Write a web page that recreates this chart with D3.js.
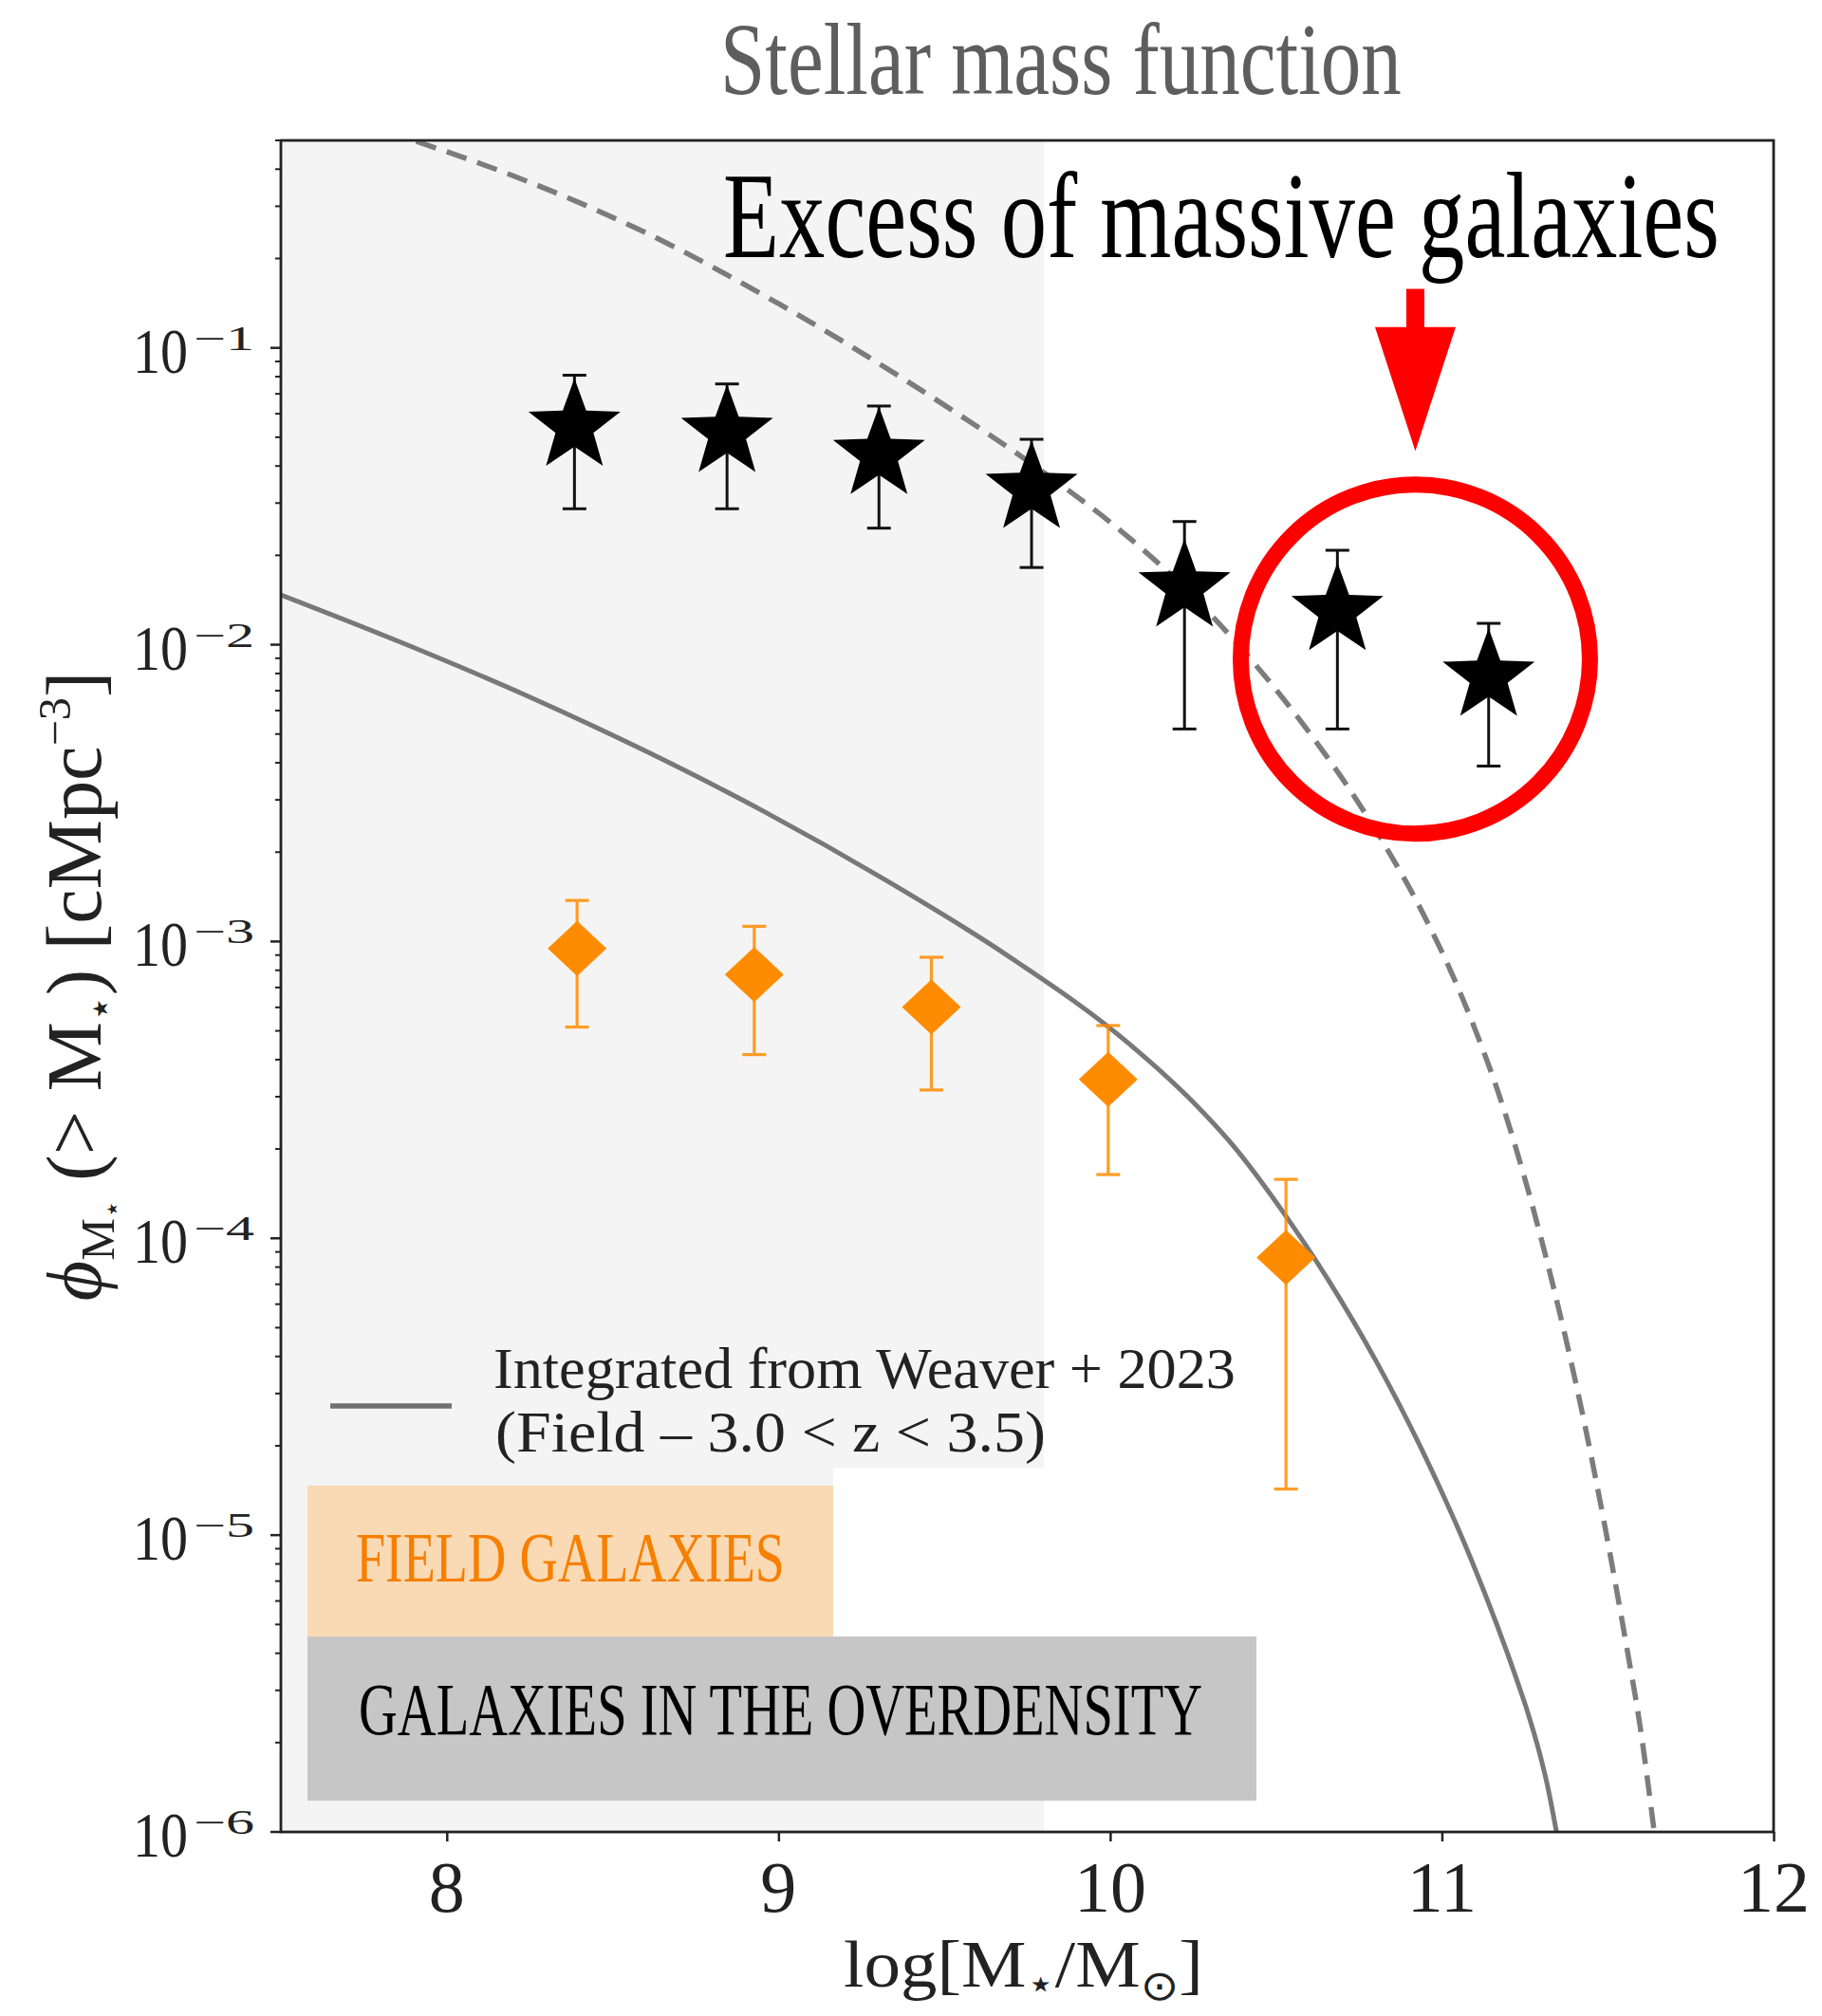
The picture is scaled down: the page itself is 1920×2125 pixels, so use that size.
<!DOCTYPE html>
<html><head><meta charset="utf-8">
<script src="https://cdn.jsdelivr.net/npm/d3@7"></script>
<style>
body{margin:0;background:#fff}
svg{display:block}
text{font-family:"Liberation Serif","Times New Roman",serif}
</style>
</head><body>
<svg id="c" width="1920" height="2125"></svg>
<script>
// ---------------- data ----------------
const xDomain = [7.5, 12];
const yDomain = [1e-6, 0.5];
const shadeRange = [7.5, 9.8];

// galaxies in the overdensity (stars)
const starX  = [8.385, 8.845, 9.303, 9.763, 10.224, 10.685, 11.141];
const starY  = [0.0543, 0.0517, 0.0436, 0.0335, 0.0156, 0.0130, 0.0078];
const starHi = [0.0809, 0.0756, 0.0637, 0.0492, 0.0260, 0.0208, 0.0118];
const starLo = [0.0287, 0.0287, 0.0247, 0.0182, 0.0052, 0.0052, 0.0039];

// field galaxies (diamonds)
const fieldX  = [8.393, 8.927, 9.461, 9.994, 10.530];
const fieldY  = [0.000947, 0.000774, 0.000601, 0.000343, 0.0000861];
const fieldHi = [0.001375, 0.001125, 0.000885, 0.000521, 0.000158];
const fieldLo = [0.000515, 0.000416, 0.000316, 0.000164, 0.0000143];

// integrated Weaver+2023 field curve (solid)
const weaverX = [7.5, 7.8634, 8.2296, 8.5959, 8.9592, 9.3255, 9.6888, 10.0551, 10.2382, 10.3727, 10.5157, 10.6588, 10.8019, 10.9449, 11.0880, 11.2310, 11.2596, 11.2883, 11.3169, 11.3455];
const weaverY = [0.01472, 0.01017, 0.006821, 0.004400, 0.002731, 0.001604, 0.000899, 0.0004543, 0.0002965, 0.0002040, 0.0001251, 7.20e-5, 3.852e-5, 1.886e-5, 8.30e-6, 3.131e-6, 2.511e-6, 1.955e-6, 1.457e-6, 1.0e-6];

// scaled curve (dashed)
const dashX = [7.908, 8.1981, 8.6016, 9.0021, 9.4027, 9.8047, 10.0064, 10.2067, 10.4070, 10.6073, 10.7275, 10.8190, 10.9421, 11.0651, 11.1882, 11.3083, 11.4313, 11.5544, 11.5973, 11.6402];
const dashY = [0.4964, 0.3808, 0.2438, 0.1405, 0.07534, 0.03769, 0.02553, 0.01622, 0.009397, 0.004935, 0.003183, 0.002194, 0.001249, 0.000632, 0.0002691, 9.12e-5, 2.339e-5, 4.37e-6, 2.279e-6, 1.0e-6];

const xTicks = [8, 9, 10, 11, 12];
const xTickLabels = ["8", "9", "10", "11", "12"];
const yTickExp = [-6, -5, -4, -3, -2, -1];
const yTickLabels = ["\u22126", "\u22125", "\u22124", "\u22123", "\u22122", "\u22121"];

// annotation anchors (data coords)
const circleCenter = [10.92, 0.00894];
const arrowX = 10.92, arrowTop = 0.158, arrowHeadBase = 0.1175, arrowTip = 0.0449;

const titleText = "Stellar mass function";
const excessText = "Excess of massive galaxies";
const legendLine1 = "Integrated from Weaver + 2023";
const legendLine2 = "(Field \u2013 3.0 < z < 3.5)";
const fieldLabel = "FIELD GALAXIES";
const overLabel = "GALAXIES IN THE OVERDENSITY";

// ---------------- layout ----------------
const W = 1920, H = 2125;
const M = {left: 296, right: 1869, top: 148, bottom: 1931};
const svg = d3.select("#c");
const x = d3.scaleLinear().domain(xDomain).range([M.left, M.right]);
const y = d3.scaleLog().domain(yDomain).range([M.bottom, M.top]);

// squeeze a text horizontally so that it spans targetWidth
function fitText(sel, x0, y0, targetWidth, extra) {
  const w = sel.node().getComputedTextLength();
  sel.attr("x", 0).attr("y", 0)
    .attr("transform", `translate(${x0},${y0})${extra || ""} scale(${(targetWidth / w).toFixed(4)},1)`);
  return sel;
}

svg.append("rect").attr("width", W).attr("height", H).attr("fill", "#fff");
svg.append("defs").append("clipPath").attr("id", "clip").append("rect")
  .attr("x", M.left).attr("y", M.top).attr("width", M.right - M.left).attr("height", M.bottom - M.top);

// shaded region
svg.append("rect")
  .attr("x", x(shadeRange[0])).attr("y", M.top)
  .attr("width", x(shadeRange[1]) - x(shadeRange[0])).attr("height", M.bottom - M.top)
  .attr("fill", "#f4f4f4");

const plot = svg.append("g").attr("clip-path", "url(#clip)");
const line = d3.line().x(d => x(d[0])).y(d => y(d[1])).curve(d3.curveMonotoneX);

plot.append("path").datum(d3.zip(weaverX, weaverY)).attr("d", line)
  .attr("fill", "none").attr("stroke", "#787878").attr("stroke-width", 5);
plot.append("path").datum(d3.zip(dashX, dashY)).attr("d", line)
  .attr("fill", "none").attr("stroke", "#7c7c7c").attr("stroke-width", 5.5)
  .attr("stroke-dasharray", "22,12");

// error bars
function errbars(xs, lo, hi, color, sw, capw, op) {
  const g = plot.append("g").attr("stroke", color).attr("stroke-width", sw).attr("opacity", op);
  xs.forEach((xv, i) => {
    const cx = x(xv);
    g.append("line").attr("x1", cx).attr("x2", cx).attr("y1", y(lo[i])).attr("y2", y(hi[i]));
    g.append("line").attr("x1", cx - capw / 2).attr("x2", cx + capw / 2).attr("y1", y(lo[i])).attr("y2", y(lo[i]));
    g.append("line").attr("x1", cx - capw / 2).attr("x2", cx + capw / 2).attr("y1", y(hi[i])).attr("y2", y(hi[i]));
  });
}
errbars(fieldX, fieldLo, fieldHi, "#ff8c00", 3.2, 25, 0.85);
errbars(starX, starLo, starHi, "#111", 3, 25, 1);

// diamonds
const diamond = "M0,-29L31,0L0,29L-31,0Z";
plot.append("g").selectAll("path").data(d3.zip(fieldX, fieldY)).join("path")
  .attr("d", diamond).attr("transform", d => `translate(${x(d[0])},${y(d[1])})`)
  .attr("fill", "#ff8c00");

// stars
function starPath(R, r) {
  const p = [];
  for (let i = 0; i < 10; i++) {
    const a = -Math.PI / 2 + i * Math.PI / 5;
    const rr = i % 2 ? r : R;
    p.push([(rr * Math.cos(a)).toFixed(2), (rr * Math.sin(a)).toFixed(2)]);
  }
  return "M" + p.join("L") + "Z";
}
const sp = starPath(51, 21);
plot.append("g").selectAll("path").data(d3.zip(starX, starY)).join("path")
  .attr("d", sp).attr("transform", d => `translate(${x(d[0])},${y(d[1])})`)
  .attr("fill", "#000");

// legend
svg.append("line").attr("x1", M.left + 52).attr("x2", M.left + 180).attr("y1", 1482).attr("y2", 1482)
  .attr("stroke", "#707070").attr("stroke-width", 5.5);
fitText(svg.append("text").attr("font-size", 62).attr("fill", "#222").text(legendLine1), 520, 1463, 782);
fitText(svg.append("text").attr("font-size", 62).attr("fill", "#222").text(legendLine2), 522, 1530, 580);

// overlay label boxes
svg.append("rect").attr("x", 878).attr("y", 1547).attr("width", x(shadeRange[1]) - 878).attr("height", 178).attr("fill", "#fff");
svg.append("rect").attr("x", 324).attr("y", 1566).attr("width", 554).attr("height", 160).attr("fill", "#f9dab4");
svg.append("rect").attr("x", 324).attr("y", 1725).attr("width", 1000).attr("height", 173).attr("fill", "#c6c6c6");
fitText(svg.append("text").attr("font-size", 74).attr("fill", "#f77f00").text(fieldLabel), 375, 1667, 452);
fitText(svg.append("text").attr("font-size", 78).attr("fill", "#000").text(overLabel), 378, 1828, 889);

// red circle + arrow
svg.append("circle").attr("cx", x(circleCenter[0])).attr("cy", y(circleCenter[1])).attr("r", 184)
  .attr("fill", "none").attr("stroke", "#ff0000").attr("stroke-width", 17);
const ax = x(arrowX), aTop = y(arrowTop), aBase = y(arrowHeadBase), aTip = y(arrowTip);
svg.append("path").attr("fill", "#ff0000")
  .attr("d", `M${ax - 9.5},${aTop}L${ax + 9.5},${aTop}L${ax + 9.5},${aBase}L${ax + 42.5},${aBase}L${ax},${aTip}L${ax - 42.5},${aBase}L${ax - 9.5},${aBase}Z`);

// annotation text
fitText(svg.append("text").attr("font-size", 130).attr("fill", "#000").text(excessText), 762, 271, 1050);

// title
fitText(svg.append("text").attr("font-size", 108).attr("fill", "#5e5e5e").text(titleText), 759, 99, 718);

// ---------------- axes ----------------
const xAxis = d3.axisBottom(x).tickValues(xTicks).tickSize(10).tickFormat("");
const gx = svg.append("g").attr("transform", `translate(0,${M.bottom})`).call(xAxis);
gx.select(".domain").remove();
gx.selectAll(".tick line").attr("stroke", "#222").attr("stroke-width", 2.5);
xTicks.forEach((t, i) => {
  svg.append("text").attr("x", x(t)).attr("y", 2015).attr("text-anchor", "middle")
    .attr("font-size", 76).attr("fill", "#222").text(xTickLabels[i]);
});

// y ticks (major + minor from the log scale)
const allTicks = y.ticks();
const isMajor = v => Math.abs(Math.log10(v) - Math.round(Math.log10(v))) < 1e-6;
const gy = svg.append("g");
allTicks.forEach(v => {
  const yy = y(v);
  const major = isMajor(v);
  gy.append("line").attr("x1", M.left).attr("x2", M.left - (major ? 11 : 6))
    .attr("y1", yy).attr("y2", yy).attr("stroke", "#222").attr("stroke-width", major ? 2.5 : 2);
});
yTickExp.forEach((e, i) => {
  const yy = y(Math.pow(10, e));
  fitText(svg.append("text").attr("font-size", 68).attr("fill", "#222").text("10"), 140, yy + 26, 58);
  fitText(svg.append("text").attr("font-size", 36).attr("fill", "#222").text(yTickLabels[i]), 204, yy + 2, 64);
});

// frame
svg.append("rect").attr("x", M.left).attr("y", M.top).attr("width", M.right - M.left).attr("height", M.bottom - M.top)
  .attr("fill", "none").attr("stroke", "#222").attr("stroke-width", 2.8);

// axis labels
const xl = svg.append("text").attr("text-anchor", "middle").attr("font-size", 70).attr("fill", "#222");
xl.append("tspan").text("log[M");
xl.append("tspan").attr("font-size", 44).attr("dy", 12).attr("font-family", "DejaVu Sans").text("\u22c6");
xl.append("tspan").attr("dy", -12).text("/M");
xl.append("tspan").attr("font-size", 44).attr("dy", 14).attr("font-family", "DejaVu Sans").text("\u2299");
xl.append("tspan").attr("dy", -14).text("]");
fitText(xl, (M.left + M.right) / 2 - 4, 2094, 379);

const yl = svg.append("text").attr("text-anchor", "middle").attr("font-size", 82).attr("fill", "#222");
yl.append("tspan").attr("font-style", "italic").text("\u03d5");
yl.append("tspan").attr("font-size", 50).attr("dy", 14).text("M");
yl.append("tspan").attr("font-size", 30).attr("dy", 8).attr("font-family", "DejaVu Sans").text("\u22c6");
yl.append("tspan").attr("dy", -22).text(" (> M");
yl.append("tspan").attr("font-size", 44).attr("dy", 14).attr("font-family", "DejaVu Sans").text("\u22c6");
yl.append("tspan").attr("dy", -14).text(") [cMpc");
yl.append("tspan").attr("font-size", 48).attr("dy", -32).text("\u22123");
yl.append("tspan").attr("dy", 32).text("]");
fitText(yl, 106, (M.top + M.bottom) / 2, 664, " rotate(-90)");
</script>
</body></html>
